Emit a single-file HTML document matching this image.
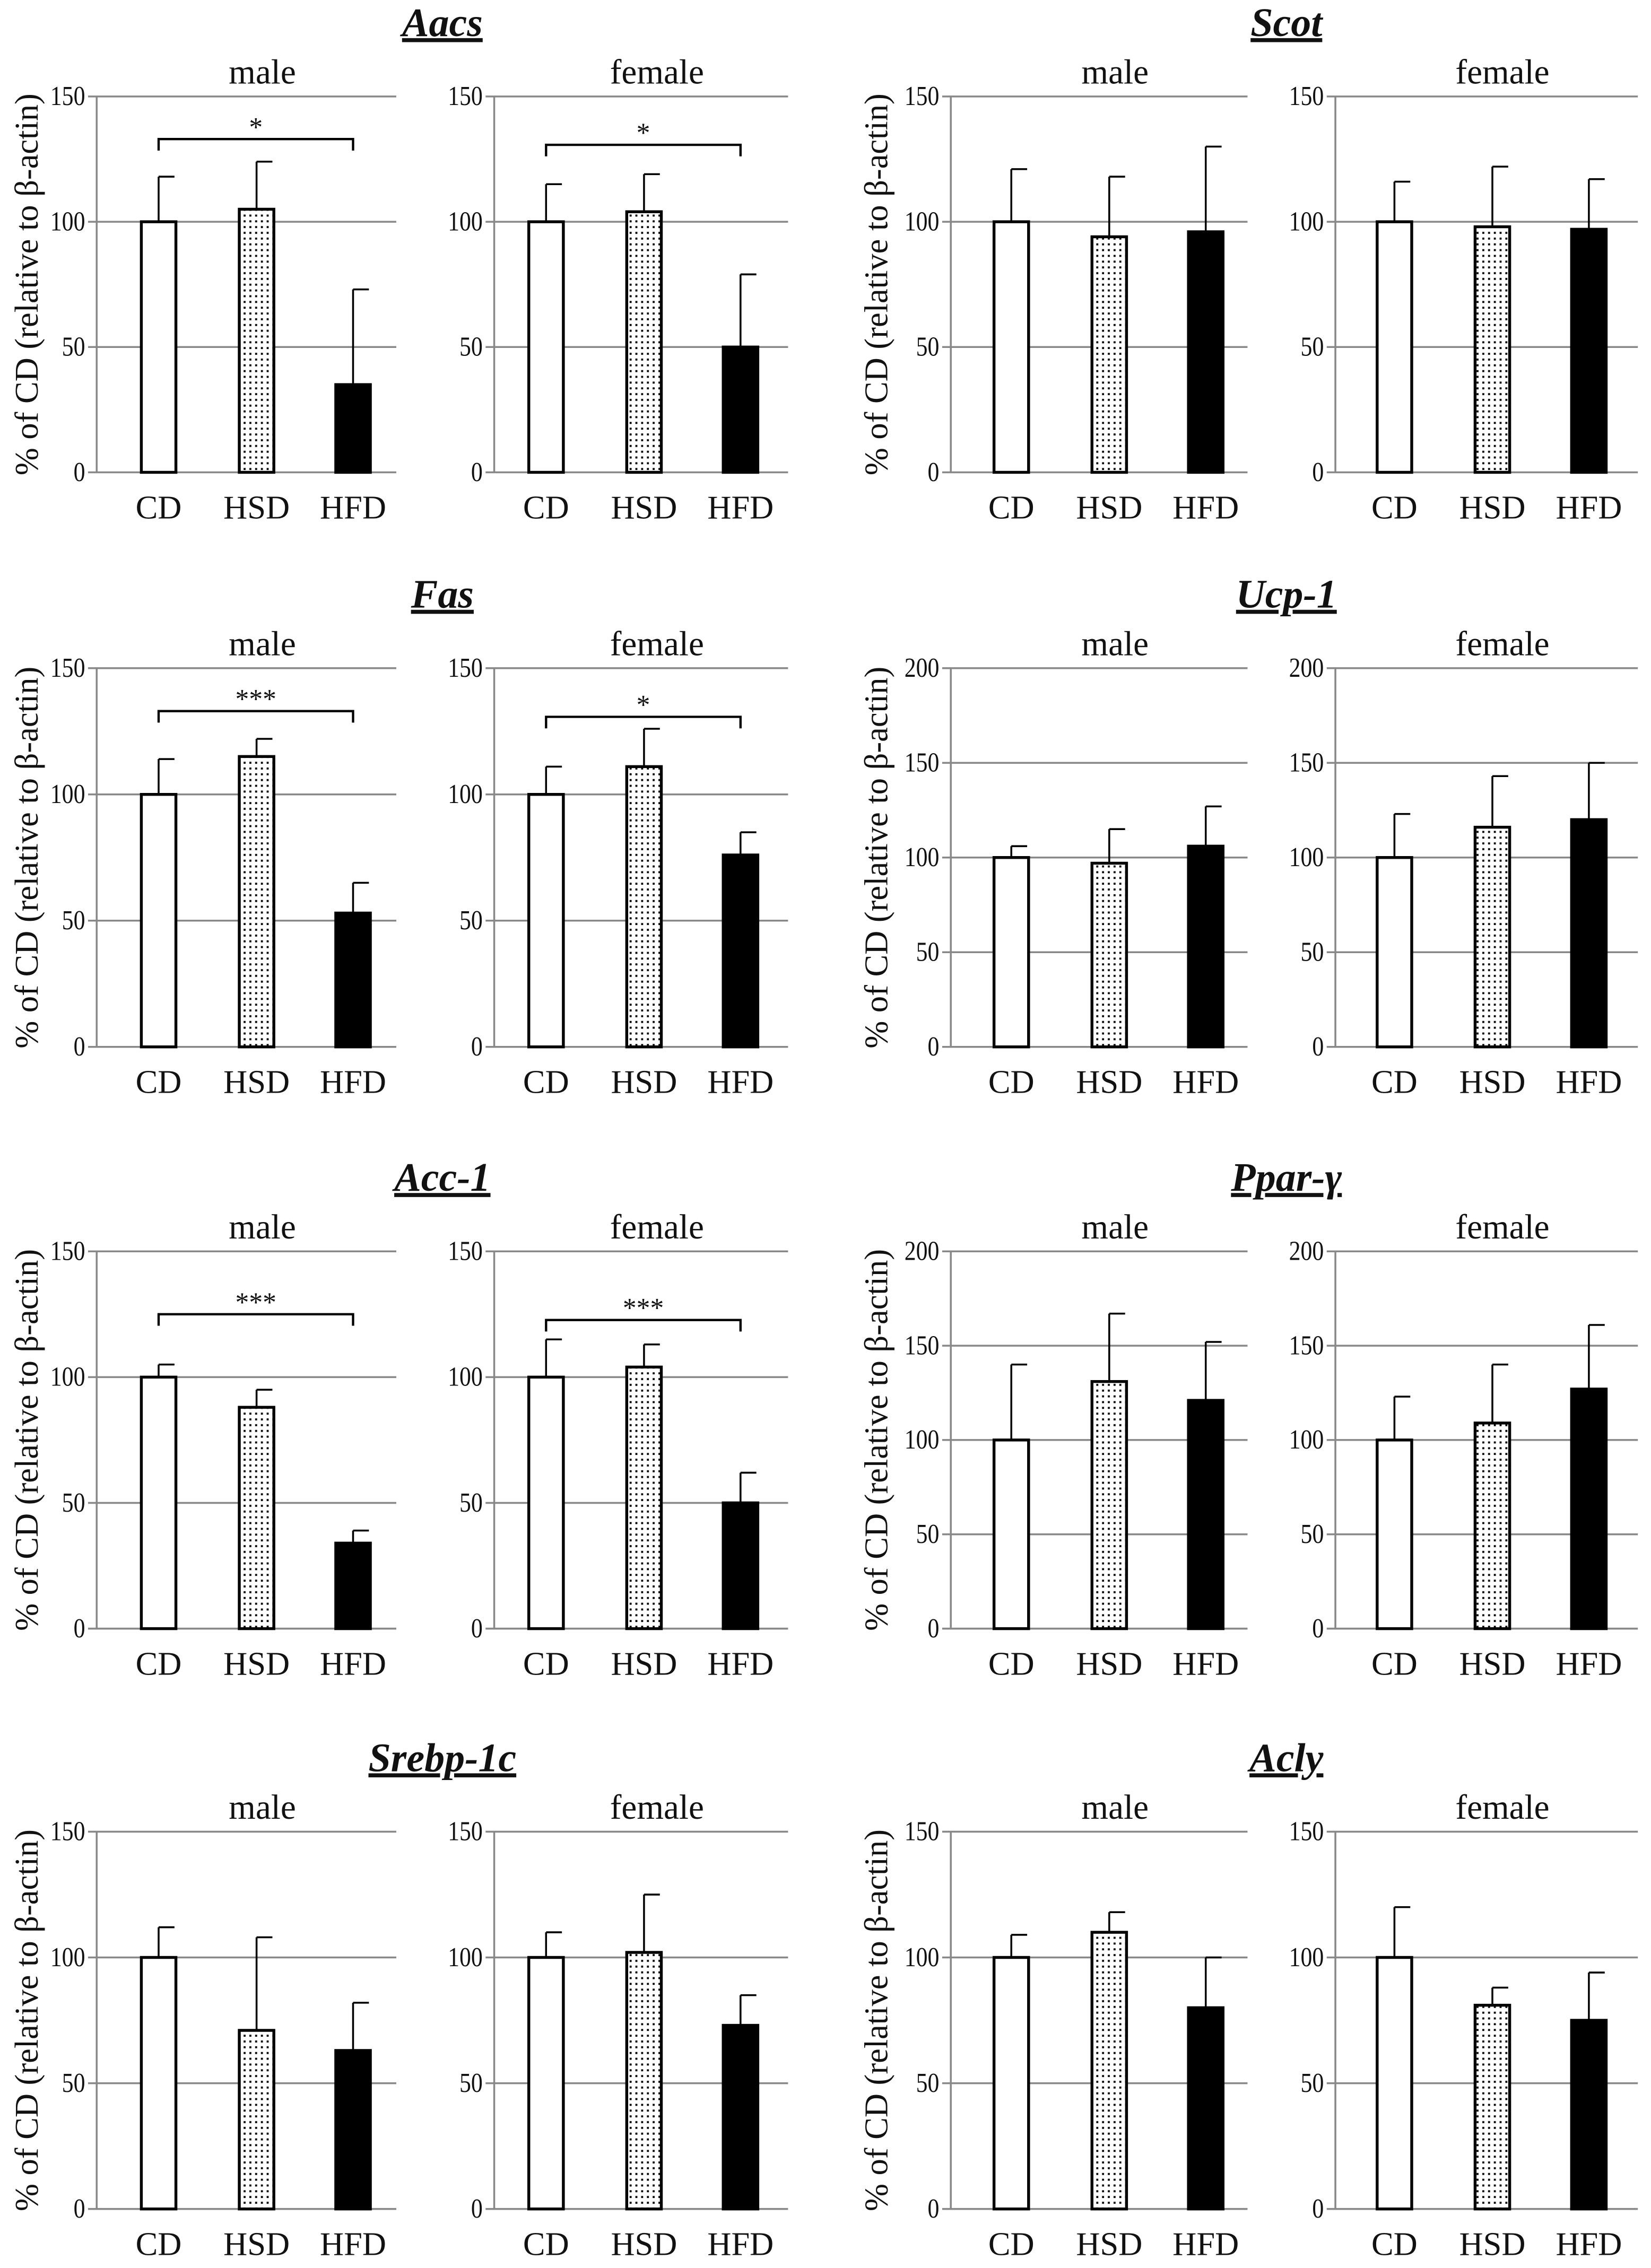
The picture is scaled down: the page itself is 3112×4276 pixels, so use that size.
<!DOCTYPE html>
<html><head><meta charset="utf-8">
<style>
html,body{margin:0;padding:0;background:#fff;}
svg{display:block;}
text{font-family:"Liberation Serif",serif;fill:#111;}
</style></head>
<body>
<svg id="fig" width="3112" height="4276" viewBox="0 0 1146 1575" xmlns="http://www.w3.org/2000/svg">
<defs>
<pattern id="dots" width="4" height="4" patternUnits="userSpaceOnUse">
<rect width="4" height="4" fill="#fff"/><rect x="1" y="1" width="1.4" height="1.4" fill="#000"/>
</pattern>
</defs>
</svg>
<script>
const genes = ["Aacs","Scot","Fas","Ucp-1","Acc-1","Ppar-γ","Srebp-1c","Acly"];
const categories = ["CD","HSD","HFD"];
const yMaxes = [150,150,150,200,150,200,150,150];
const maleMeans = [[100,105,35],[100,94,96],[100,115,53],[100,97,106],[100,88,34],[100,131,121],[100,71,63],[100,110,80]];
const maleErrs = [[18,19,38],[21,24,34],[14,7,12],[6,18,21],[5,7,5],[40,36,31],[12,37,19],[9,8,20]];
const femaleMeans = [[100,104,50],[100,98,97],[100,111,76],[100,116,120],[100,104,50],[100,109,127],[100,102,73],[100,81,75]];
const femaleErrs = [[15,15,29],[16,24,20],[11,15,9],[23,27,30],[15,9,12],[23,31,34],[10,23,12],[20,7,19]];
const maleSig = ["*","","***","","***","","",""];
const femaleSig = ["*","","*","","***","","",""];
const sigLevel = [133,0,133,0,125,0,0,0];

const NS="http://www.w3.org/2000/svg";
const svg=document.getElementById('fig');
const FF='"Liberation Serif", serif';
function el(tag,attrs,parent){const e=document.createElementNS(NS,tag);for(const k in attrs)e.setAttribute(k,attrs[k]);if(tag==='text')e.setAttribute('font-family',FF);(parent||svg).appendChild(e);return e;}
const colLeft=[67,343,660,927], colRight=[275,547,866,1137];
const barOff=[[43,111,178],[36,104,171],[42,110,177],[41,109,176]];
const rows=[[67,328],[464,727],[869,1131],[1272,1534]];
const fills=["#fff","url(#dots)","#000"];
const bw=24;

genes.forEach((g,gi)=>{
  const row=Math.floor(gi/2), grp=gi%2;
  const [top,bot]=rows[row];
  const ymax = yMaxes[gi];
  const ys=v=>bot-(v/ymax)*(bot-top);
  const tcx = grp===0 ? 307 : 893;
  const t=el('text',{x:tcx,y:top-42,'text-anchor':'middle','font-size':28,'font-weight':'bold','font-style':'italic','text-decoration':'underline'});
  
  
  t.textContent=g;
  const yl=el('text',{transform:`translate(${grp===0?26:616},${(top+bot)/2}) rotate(-90)`,'text-anchor':'middle','font-size':23});
  
  
  yl.textContent='% of CD (relative to β-actin)';
  ['male','female'].forEach((sex,si)=>{
    const col=grp*2+si;
    const L=colLeft[col], R=colRight[col];
    const means = si===0?maleMeans[gi]:femaleMeans[gi];
    const errs = si===0?maleErrs[gi]:femaleErrs[gi];
    const sig = si===0?maleSig[gi]:femaleSig[gi];
    const pg=el('g',{});
    
    
    const st=el('text',{x:(L+R)/2+11,y:top-9,'text-anchor':'middle','font-size':24},pg);
    
    
    st.textContent=sex;
    for(let v=0;v<=ymax;v+=50){
      const y=ys(v);
      const gl=el('line',{x1:L-6,x2:R,y1:y,y2:y,stroke:'#888','stroke-width':1.3},pg);
      
      
      const tl=el('text',{x:L-8,y:y+6,'text-anchor':'end','font-size':19,transform:`translate(${L-8},0) scale(0.85,1) translate(${-(L-8)},0)`},pg);
      
      
      tl.textContent=v;
    }
    const ax=el('line',{x1:L,x2:L,y1:top,y2:bot,stroke:'#888','stroke-width':1.3},pg);
    
    
    categories.forEach((c,ci)=>{
      const cx=L+barOff[col][ci];
      const yt=ys(means[ci]), ye=ys(means[ci]+errs[ci]);
      const eb=el('line',{x1:cx,x2:cx,y1:ye,y2:yt,stroke:'#000','stroke-width':1.3},pg);
      
      
      const ec=el('line',{x1:cx,x2:cx+11,y1:ye,y2:ye,stroke:'#000','stroke-width':1.3},pg);
      
      
      const b=el('rect',{x:cx-bw/2,y:yt,width:bw,height:bot-yt,fill:fills[ci],stroke:'#000','stroke-width':2},pg);
      
      
      const cl=el('text',{x:cx,y:bot+32,'text-anchor':'middle','font-size':23},pg);
      
      
      cl.textContent=c;
    });
    if(sig){
      const x1=L+barOff[col][0], x2=L+barOff[col][2];
      const yb=ys(sigLevel[gi]) + (si===1?4:0);
      const br=el('path',{d:`M${x1} ${yb+8}V${yb}H${x2}V${yb+8}`,fill:'none',stroke:'#000','stroke-width':1.6},pg);
      
      
      const sl=el('text',{x:(x1+x2)/2,y:yb-2,'text-anchor':'middle','font-size':19},pg);
      
      
      sl.textContent=sig;
    }
  });
});
</script>
</body></html>
